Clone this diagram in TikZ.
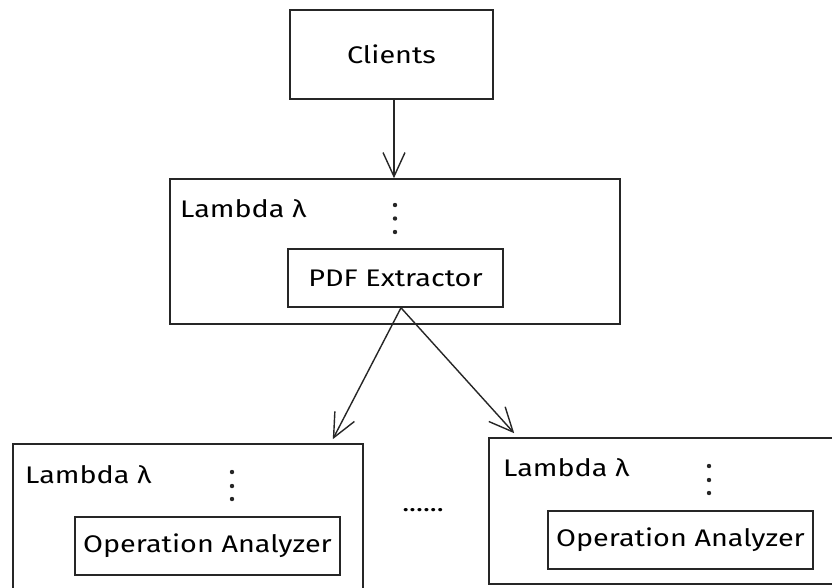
\documentclass[tikz,border=0pt]{standalone}
\usepackage{fontspec}
\setmainfont[FakeStretch=1.2]{Fira Sans}
\usetikzlibrary{arrows.meta}
\begin{document}
\begin{tikzpicture}[x=1pt,y=-1pt,
  txt/.style={font=\fontsize{24}{29}\selectfont},
  box/.style={draw=black!85, line width=1.6pt, inner sep=0pt, txt},
  arr/.style={draw=black!85, line width=1.4pt, -{Straight Barb[length=24pt,width=22pt,line width=1.4pt]}},
  lbl/.style={txt, anchor=base west, inner sep=0pt},
  vdot/.style={circle, fill=black!85, inner sep=0pt, minimum size=4.4pt}]
\clip (0,0) rectangle (832,587);
\fill[white] (0,0) rectangle (832,587);
% top
\node[box, minimum width=203pt, minimum height=89pt] (clients) at (391.5,54.5) {Clients};
\node[box, minimum width=450pt, minimum height=145pt] (l1) at (395,251.5) {};
\node[box, minimum width=215pt, minimum height=58pt] (pdf) at (395.5,278) {PDF Extractor};
\node[lbl] (lam1) at (180,217) {Lambda λ};
\node[vdot] (d1a) at (395,205) {};
\node[vdot] (d1b) at (395,218.5) {};
\node[vdot] (d1c) at (395,232) {};
% bottom left
\node[box, minimum width=350pt, minimum height=166pt] (l2) at (188,527) {};
\node[box, minimum width=265pt, minimum height=58pt] (oa1) at (207.5,546) {Operation Analyzer};
\node[lbl] (lam2) at (25,483) {Lambda λ};
\node[vdot] (d2a) at (232,472) {};
\node[vdot] (d2b) at (232,486) {};
\node[vdot] (d2c) at (232,499) {};
% bottom right
\node[box, minimum width=371pt, minimum height=146pt] (l3) at (674.5,511) {};
\node[box, minimum width=265pt, minimum height=58pt] (oa2) at (680.5,540) {Operation Analyzer};
\node[lbl] (lam3) at (503,476) {Lambda λ};
\node[vdot] (d3a) at (709,466) {};
\node[vdot] (d3b) at (709,480) {};
\node[vdot] (d3c) at (709,493) {};
% ellipsis
\node[txt, anchor=base, inner sep=0pt] (more) at (423,511) {......};
% arrows
\draw[arr] ([xshift=2.5pt]clients.south) -- ([xshift=2.5pt]clients.south |- l1.north);
\draw[arr] ([xshift=5.5pt]pdf.south) -- ([xshift=-31pt,yshift=4pt]l2.north east);
\draw[arr] ([xshift=5.5pt]pdf.south) -- ([xshift=26pt,yshift=4pt]l3.north west);
\end{tikzpicture}
\end{document}
